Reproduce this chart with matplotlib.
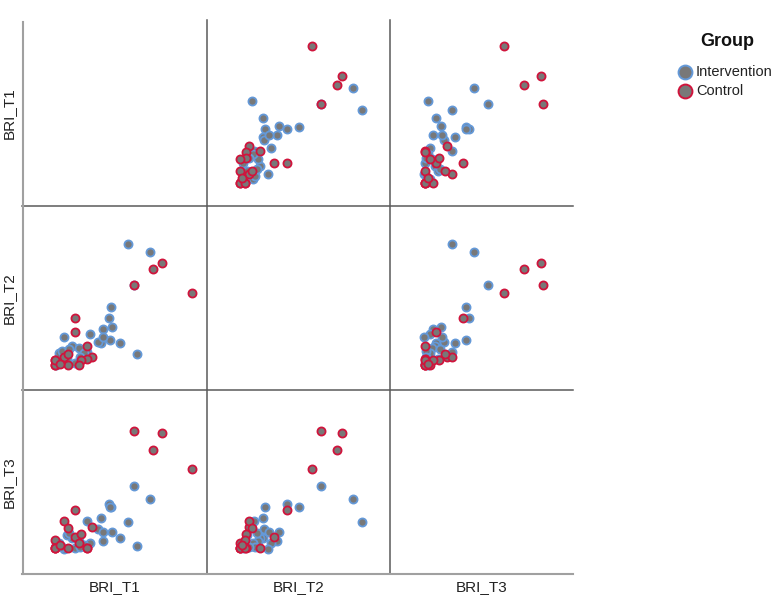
import matplotlib
matplotlib.use("Agg")
import matplotlib.pyplot as plt
from matplotlib.lines import Line2D

plt.rcParams['font.family'] = ['Liberation Sans', 'DejaVu Sans']

variables = ["BRI_T1", "BRI_T2", "BRI_T3"]
groups = ["Intervention", "Control"]

# Intervention group scores
int_t1 = [95.3, 73.3, 79.0, 81.7, 56.0, 53.8, 57.0, 48.3, 65.0, 54.5, 46.2, 43.0,
          48.0, 35.0, 32.2, 9.3, 17.0, 23.7, 28.7, 3.7, 20.3, 12.0, 7.0, 25.0, 1.0, 14.0]
int_t2 = [113.3, 121.6, 80.7, 11.7, 58.8, 47.2, 39.0, 36.6, 22.8, 25.3, 22.5, 23.5,
          28.7, 31.3, 14.0, 28.3, 19.6, 18.0, 13.0, 12.6, 3.0, 7.0, 15.0, 9.0, 1.0, 17.0]
int_t3 = [51.3, 28.7, 64.7, 4.5, 43.0, 45.8, 18.3, 9.6, 12.6, 43.0, 32.0, 21.3,
          18.6, 7.0, 29.3, 1.3, 12.0, 9.0, 5.0, 7.0, 2.0, 15.0, 3.0, 3.0, 5.0, 17.0]

# Control group scores
con_t1 = [136.7, 106.7, 97.7, 79.0, 20.3, 37.0, 20.0, 32.0, 9.3, 12.5, 31.5, 25.5,
          23.7, 0.3, 12.5, 0.3, 0.3, 0.3, 5.0]
con_t2 = [72.3, 102.3, 97.0, 80.5, 47.3, 8.6, 33.8, 19.5, 8.7, 11.5, 6.3, 6.0,
          0.3, 5.3, 0.3, 0.3, 0.3, 5.3, 2.0]
con_t3 = [81.3, 117.6, 100.7, 119.7, 40.3, 23.6, 13.0, 2.0, 29.3, 22.0, 2.0, 16.0,
          7.0, 10.3, 2.0, 2.0, 2.0, 2.0, 5.0]

data = {
    "Intervention": [int_t1, int_t2, int_t3],
    "Control": [con_t1, con_t2, con_t3],
}
edge_colors = {"Intervention": "#6499d8", "Control": "#d0143c"}
fill_color = "#787878"

W, H = 777, 599
fig = plt.figure(figsize=(W / 100, H / 100), dpi=100)

col_edges = [22, 207, 390, 573]
row_edges = [20, 206, 390, 574]
xlims = [(-33, 152), (-33, 150), (-33, 150)]
ylims = [(-23, 163), (-24.4, 159.6), (-23.7, 160.3)]

for r in range(3):
    for c in range(3):
        left = col_edges[c] / W
        width = (col_edges[c + 1] - col_edges[c]) / W
        bottom = 1 - row_edges[r + 1] / H
        height = (row_edges[r + 1] - row_edges[r]) / H
        ax = fig.add_axes([left, bottom, width, height])
        ax.set_xlim(*xlims[c])
        ax.set_ylim(*ylims[r])
        ax.set_xticks([])
        ax.set_yticks([])
        for s in ax.spines.values():
            s.set_visible(False)
        ax.patch.set_alpha(0)
        if r == c:
            continue
        for g in groups:
            ax.scatter(data[g][c], data[g][r], s=34, c=fill_color,
                       edgecolors=edge_colors[g], linewidths=1.3, zorder=3)

# grid / axis lines
def fl(x0, y0, x1, y1, color, lw):
    fig.add_artist(Line2D([x0 / W, x1 / W], [1 - y0 / H, 1 - y1 / H],
                          transform=fig.transFigure, color=color, lw=lw))

for x in col_edges[1:3]:
    fl(x, 20, x, 574, "#5a5a5a", 1.1)
for y in row_edges[1:3]:
    fl(22, y, 573, y, "#5a5a5a", 1.1)
fl(22.5, 22, 22.5, 574, "#a0a0a0", 1.5)
fl(22, 573.5, 573, 573.5, "#a0a0a0", 1.5)

for i, v in enumerate(variables):
    cx = (col_edges[i] + col_edges[i + 1]) / 2
    fig.text(cx / W, 1 - 587 / H, v, ha="center", va="center", fontsize=11, color="#222222")
    cy = (row_edges[i] + row_edges[i + 1]) / 2
    fig.text(9 / W, 1 - cy / H, v, ha="center", va="center", rotation=90,
             fontsize=11, color="#222222")

# legend
fig.text(727 / W, 1 - 42 / H, "Group", ha="center", va="center",
         fontsize=13, fontweight="bold", color="#111111")
for k, g in enumerate(groups):
    yy = 72 + 19 * k
    fig.add_artist(Line2D([685 / W], [1 - yy / H], transform=fig.transFigure,
                          marker="o", ls="", markersize=10, markerfacecolor=fill_color,
                          markeredgecolor=edge_colors[g], markeredgewidth=1.4))
    fig.text(696 / W, 1 - yy / H, g, ha="left", va="center", fontsize=10.5,
             color="#222222")

fig.savefig("out.png", dpi=100)
